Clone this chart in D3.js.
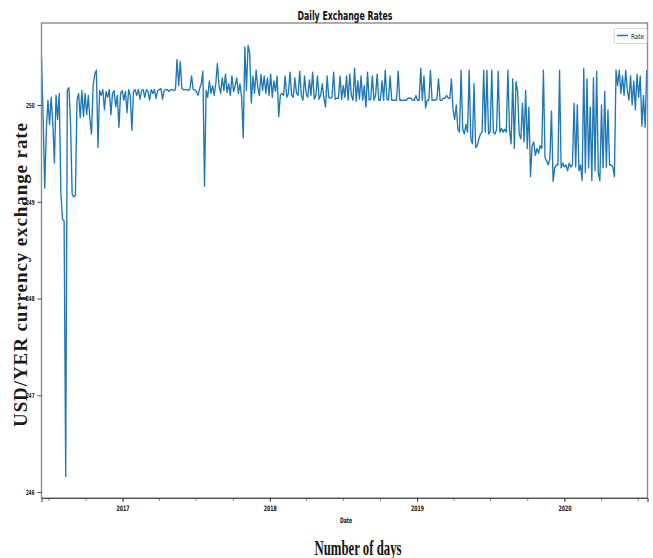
<!DOCTYPE html>
<html>
<head>
<meta charset="utf-8">
<script src="https://cdn.jsdelivr.net/npm/d3@7"></script>
<style>
  html, body { margin: 0; padding: 0; background: #fff; }
  svg { display: block; }
</style>
</head>
<body>
<svg id="chart" width="653" height="558"></svg>
<script>
// ---- data ----
const title = "Daily Exchange Rates";
const seriesName = "Rate";
const xLabel = "Date";
const xOuterLabel = "Number of days";
const yLabel = "USD/YER currency exchange rate";
const startDate = "2016-06-14";   // first observation
const endDate = "2020-07-25";     // end of x domain
const stepDays = 4;               // sampled every 4 days
const yTicks = [246, 247, 248, 249, 250];
const yDomain = [245.938, 250.848];

const rates = [
  250.50, 249.88, 249.14, 249.75, 250.05, 249.80, 250.08, 249.82, 249.40, 250.10,
  249.85, 250.12, 249.10, 248.82, 248.80, 246.16, 250.15, 250.18, 249.80, 249.08,
  249.05, 249.06, 250.05, 250.12, 249.87, 250.15, 249.88, 250.12, 249.90, 250.10,
  249.85, 249.70, 250.20, 250.32, 250.36, 249.56, 250.15, 250.10, 250.16, 249.95,
  250.14, 250.08, 250.16, 249.90, 250.12, 250.15, 249.98, 250.10, 249.77, 250.12,
  250.15, 250.05, 250.14, 249.92, 250.16, 250.10, 249.74, 250.14, 250.16, 250.10,
  250.16, 250.06, 250.15, 250.16, 250.08, 250.16, 250.14, 250.05, 250.16, 250.12,
  250.16, 250.07, 250.15, 250.16, 250.17, 250.06, 250.15, 250.16, 250.16, 250.14,
  250.16, 250.16, 250.15, 250.16, 250.47, 250.20, 250.45, 250.17, 250.16, 250.16,
  250.16, 250.15, 250.17, 250.30, 250.16, 250.16, 250.14, 250.10, 250.17, 250.22,
  250.35, 249.16, 250.15, 250.08, 250.25, 250.12, 250.20, 250.10, 250.22, 250.43,
  250.20, 250.12, 250.28, 250.15, 250.32, 250.13, 250.22, 250.10, 250.30, 250.14,
  250.20, 250.28, 250.12, 250.22, 250.08, 249.66, 250.60, 250.15, 250.62, 250.54,
  250.02, 250.30, 250.12, 250.36, 250.18, 250.10, 250.32, 250.15, 250.30, 250.12,
  250.28, 250.10, 250.32, 250.08, 250.25, 250.14, 250.30, 249.88, 250.10, 250.12,
  250.10, 250.30, 250.08, 250.12, 250.34, 250.10, 250.08, 250.28, 250.12, 250.10,
  250.35, 250.10, 250.05, 250.30, 250.12, 250.08, 250.26, 250.10, 250.34, 250.06,
  250.10, 250.30, 250.06, 250.10, 250.22, 250.07, 249.98, 250.30, 250.08, 250.07,
  250.08, 250.34, 250.06, 250.07, 250.07, 250.30, 250.06, 250.20, 250.08, 250.30,
  250.05, 250.32, 250.10, 250.05, 250.38, 250.04, 250.25, 250.06, 250.30, 250.05,
  250.20, 249.98, 250.34, 250.05, 250.06, 250.30, 250.05, 250.10, 250.32, 250.05,
  250.05, 250.25, 250.05, 250.36, 250.06, 250.05, 250.30, 250.05, 250.05, 250.05,
  250.05, 250.35, 250.05, 250.05, 250.05, 250.05, 250.05, 250.07, 250.07, 250.07,
  250.05, 250.05, 250.10, 250.05, 250.05, 250.38, 250.05, 250.30, 249.97, 250.05,
  250.05, 250.36, 250.05, 250.05, 250.05, 250.06, 250.27, 250.05, 250.05, 250.07,
  250.07, 250.10, 250.07, 250.07, 250.27, 249.95, 249.85, 250.00, 249.75, 249.72,
  250.36, 249.75, 249.70, 249.80, 249.72, 250.36, 249.65, 249.60, 250.22, 249.56,
  249.58, 249.65, 249.70, 249.72, 250.36, 249.72, 250.36, 249.70, 249.72, 250.36,
  249.72, 249.70, 249.75, 250.35, 249.72, 249.76, 249.72, 249.75, 249.72, 250.36,
  249.74, 249.60, 250.27, 249.55, 250.24, 250.15, 249.70, 249.65, 250.02, 249.62,
  250.15, 249.55, 249.98, 249.26, 249.58, 249.62, 249.48, 249.55, 249.50, 249.58,
  249.55, 250.36, 249.46, 249.42, 249.38, 249.45, 249.94, 249.21, 249.35, 249.38,
  249.38, 250.36, 249.35, 249.40, 249.36, 249.38, 249.32, 249.40, 249.36, 249.38,
  250.02, 249.36, 250.00, 249.32, 249.38, 249.22, 250.38, 249.30, 250.27, 249.35,
  249.98, 249.22, 250.28, 249.32, 250.35, 249.30, 249.22, 250.00, 249.35, 250.14,
  249.36, 249.95, 249.38, 249.38, 249.36, 249.26, 250.36, 250.20, 250.36, 250.12,
  250.30, 250.10, 250.36, 250.15, 250.05, 250.30, 250.00, 250.25, 249.95, 250.32,
  250.08, 250.30, 249.78, 250.10, 249.77, 250.36
];

// ---- layout ----
const W = 653, H = 558;
const plot = { left: 41.5, right: 647.5, top: 23, bottom: 498 };
const color = "#1f77b4";
const narrow = "'Liberation Sans Narrow', 'DejaVu Sans Condensed', 'Liberation Sans', sans-serif";
const serif = "'Liberation Serif', 'DejaVu Serif', serif";

const svg = d3.select("#chart");
const parse = d3.utcParse("%Y-%m-%d");
const t0 = parse(startDate);
const data = rates.map((v, i) => ({ date: d3.utcDay.offset(t0, i * stepDays), value: v }));

const x = d3.scaleUtc().domain([t0, parse(endDate)]).range([plot.left, plot.right]);
const y = d3.scaleLinear().domain(yDomain).range([plot.bottom, plot.top]);

// line
const clipId = "plotclip";
svg.append("clipPath").attr("id", clipId).append("rect")
  .attr("x", plot.left).attr("y", plot.top)
  .attr("width", plot.right - plot.left).attr("height", plot.bottom - plot.top);

svg.append("path")
  .datum(data)
  .attr("clip-path", `url(#${clipId})`)
  .attr("fill", "none")
  .attr("stroke", color)
  .attr("stroke-width", 1.35)
  .attr("stroke-linejoin", "round")
  .attr("d", d3.line().x(d => x(d.date)).y(d => y(d.value)));

// frame
svg.append("rect")
  .attr("x", plot.left).attr("y", plot.top)
  .attr("width", plot.right - plot.left).attr("height", plot.bottom - plot.top)
  .attr("fill", "none").attr("stroke", "#8c8c8c").attr("stroke-width", 1.4);

// x axis: minor quarterly ticks
const xMinor = d3.axisBottom(x).ticks(d3.utcMonth.every(3)).tickSize(2.5).tickFormat("");
const gxm = svg.append("g").attr("transform", `translate(0,${plot.bottom})`).call(xMinor);
gxm.select(".domain").remove();
gxm.selectAll(".tick line").attr("stroke", "#333").attr("stroke-width", 0.8);

// x axis: major yearly ticks
const xMajor = d3.axisBottom(x).ticks(d3.utcYear.every(1)).tickSize(4).tickPadding(4)
  .tickFormat(d3.utcFormat("%Y"));
const gx = svg.append("g").attr("transform", `translate(0,${plot.bottom})`).call(xMajor);
gx.select(".domain").attr("stroke", "#555").attr("stroke-width", 1.2);
gx.selectAll(".tick line").attr("stroke", "#333").attr("stroke-width", 0.9);
gx.selectAll(".tick text")
  .attr("font-family", narrow).attr("font-weight", "bold")
  .attr("font-size", 7.5).attr("fill", "#111")
  .attr("textLength", 13).attr("lengthAdjust", "spacingAndGlyphs");

// y axis
const yAxis = d3.axisLeft(y).tickValues(yTicks).tickSize(4).tickPadding(3).tickFormat(d3.format("d"));
const gy = svg.append("g").attr("transform", `translate(${plot.left},0)`).call(yAxis);
gy.select(".domain").remove();
gy.selectAll(".tick line").attr("stroke", "#333").attr("stroke-width", 0.9);
gy.selectAll(".tick text")
  .attr("font-family", narrow).attr("font-weight", "bold")
  .attr("font-size", 7).attr("fill", "#111")
  .attr("textLength", 8.5).attr("lengthAdjust", "spacingAndGlyphs");

// title
svg.append("text")
  .attr("x", 345).attr("y", 19.5)
  .attr("text-anchor", "middle")
  .attr("font-family", narrow).attr("font-weight", "bold")
  .attr("font-size", 12.5).attr("fill", "#111")
  .attr("textLength", 95).attr("lengthAdjust", "spacingAndGlyphs")
  .text(title);

// x label "Date"
svg.append("text")
  .attr("x", 346).attr("y", 523)
  .attr("text-anchor", "middle")
  .attr("font-family", narrow).attr("font-weight", "bold")
  .attr("font-size", 7.5).attr("fill", "#111")
  .attr("textLength", 12).attr("lengthAdjust", "spacingAndGlyphs")
  .text(xLabel);

// outer x label
svg.append("text")
  .attr("x", 358).attr("y", 554.5)
  .attr("text-anchor", "middle")
  .attr("font-family", serif).attr("font-weight", "bold")
  .attr("font-size", 22).attr("fill", "#111")
  .attr("textLength", 87).attr("lengthAdjust", "spacingAndGlyphs")
  .text(xOuterLabel);

// y label
svg.append("text")
  .attr("transform", "translate(27,275) rotate(-90)")
  .attr("text-anchor", "middle")
  .attr("font-family", serif).attr("font-weight", "bold")
  .attr("font-size", 19).attr("fill", "#1a1a1a")
  .attr("textLength", 304).attr("lengthAdjust", "spacing")
  .text(yLabel);

// legend
const lg = svg.append("g");
lg.append("rect")
  .attr("x", 614).attr("y", 28.5).attr("width", 33).attr("height", 15)
  .attr("rx", 1.5).attr("fill", "#fff").attr("stroke", "#ccc").attr("stroke-width", 0.8);
lg.append("line")
  .attr("x1", 617).attr("x2", 628).attr("y1", 35.5).attr("y2", 35.5)
  .attr("stroke", color).attr("stroke-width", 1.5);
lg.append("text")
  .attr("x", 631).attr("y", 38.5)
  .attr("font-family", narrow).attr("font-size", 7).attr("fill", "#222")
  .attr("textLength", 13).attr("lengthAdjust", "spacingAndGlyphs")
  .text(seriesName);
</script>
</body>
</html>
